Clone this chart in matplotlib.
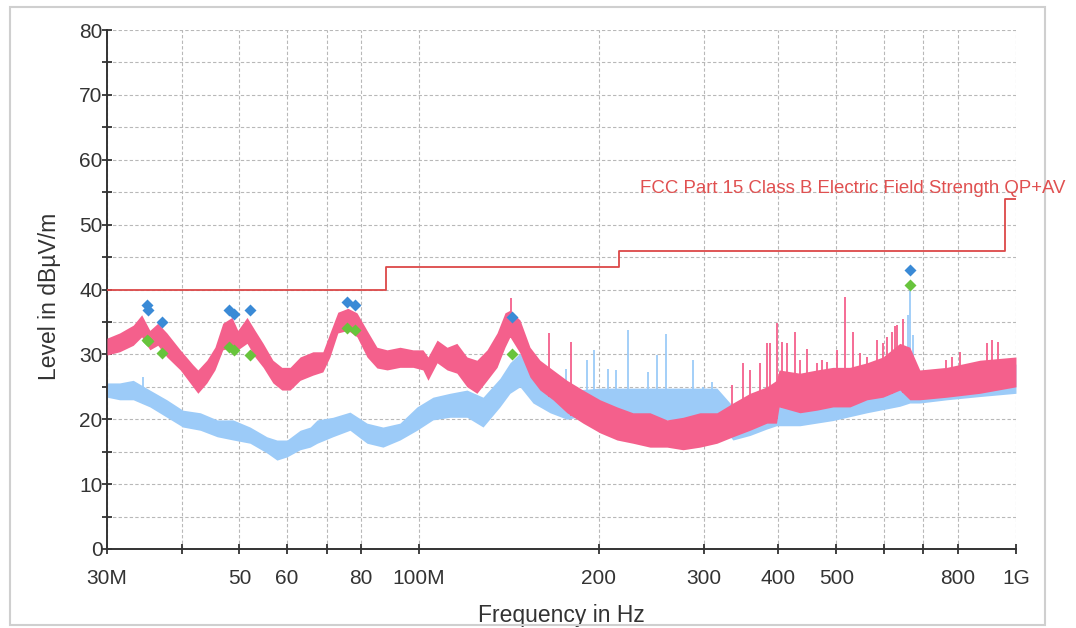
import numpy as np
import matplotlib

matplotlib.use("Agg")
import matplotlib.pyplot as plt
from matplotlib.patches import Rectangle
from matplotlib.ticker import MultipleLocator, NullLocator

plt.rcParams["font.family"] = ["Liberation Sans", "DejaVu Sans"]

# horizontal polarisation trace (pink) - noise band, MHz / dBuV/m
pink_freq = [30, 31.5, 33.2, 34.3, 35.4, 36.5, 37.8, 39.8, 41.8, 42.6,
             44.1, 45.5, 46.9, 48.6, 49.7, 51.5, 53.1, 54.8, 56.9, 58.9,
             60.8, 63.2, 66.4, 69.0, 70.9, 73.1, 76.0, 78.7, 81.8, 85.0,
             88.4, 92.9, 97.7, 101.5, 103.5, 107.2, 111.4, 115.7, 120.3, 125.0,
             130.0, 135.1, 139.3, 142.0, 147.6, 153.4, 159.4, 167.6, 176.9, 188.2,
             201, 214.6, 228.2, 243.7, 260.2, 276.8, 295.5, 315.5, 335.6, 358.4,
             382.6, 397, 401, 434.6, 464, 493.7, 527, 562.8, 598.6, 639,
             664, 690, 766, 870, 1000]
pink_high = [32.5, 33.3, 34.5, 36.1, 33.7, 34.8, 33.3, 30.7, 28.4, 27.6,
             29.1, 31.1, 34.8, 35.7, 33.7, 35.7, 33.7, 31.7, 29.1, 28.0,
             28.0, 29.6, 30.4, 30.4, 33.3, 36.5, 37.1, 36.4, 33.7, 31.1,
             30.7, 31.1, 30.7, 30.7, 29.6, 32.2, 31.1, 31.7, 29.6, 29.1,
             30.7, 33.3, 36.4, 36.8, 35.3, 31.1, 29.1, 27.6, 26.0, 24.5,
             23.0, 21.9, 21.0, 21.0, 19.9, 20.3, 21.0, 21.0, 22.5, 24.0,
             25.0, 26.0, 27.6, 27.1, 27.6, 28.0, 28.0, 28.7, 29.6, 31.7,
             31.1, 27.6, 28.0, 29.1, 29.6]
pink_low = [29.9, 30.4, 31.4, 32.7, 30.7, 31.4, 29.6, 27.6, 25.0, 24.0,
            25.6, 27.6, 30.7, 31.1, 30.7, 31.7, 29.6, 28.0, 25.6, 24.5,
            24.5, 26.0, 26.8, 27.3, 29.6, 33.3, 33.7, 32.7, 29.6, 27.9,
            27.6, 28.0, 28.0, 27.6, 26.0, 28.7, 27.6, 27.1, 25.0, 24.0,
            26.0, 28.0, 31.1, 32.7, 30.2, 26.5, 24.5, 23.0, 21.0, 19.4,
            17.9, 16.8, 16.3, 15.7, 15.7, 15.3, 15.7, 16.3, 17.3, 18.3,
            19.4, 19.4, 21.9, 21.0, 21.4, 21.9, 21.9, 23.0, 23.4, 24.5,
            23.0, 23.0, 23.4, 24.0, 25.0]
pink_spike_freq = [142.5, 165, 180, 334, 349, 358, 373, 383, 387, 398,
                   405, 413, 426, 435, 446, 464, 473, 482, 501, 517,
                   533, 548, 562, 584, 599, 607, 619, 628, 632, 647,
                   763, 780, 806, 893, 910, 934]
pink_spike_level = [38.7, 33.3, 31.9, 25.3, 28.6, 27.6, 28.6, 31.7, 31.7, 34.8,
                    31.9, 31.7, 33.5, 29.1, 30.9, 28.6, 29.1, 28.9, 30.7, 38.9,
                    33.5, 30.2, 29.6, 32.2, 31.7, 32.7, 33.5, 34.3, 34.5, 35.5,
                    29.1, 29.6, 30.4, 31.7, 32.2, 31.9]

# vertical polarisation trace (light blue)
blue_freq = [30, 31.5, 33.2, 35.4, 37.8, 40.2, 43.0, 45.9, 48.8, 52.1,
             55.6, 57.8, 60.1, 63.2, 65.7, 67.5, 71.7, 76.6, 81.8, 87.0,
             92.9, 99.2, 105.5, 112.6, 120.3, 128.0, 136.6, 142.0, 147.6, 155.2,
             165.7, 176.9, 188.2, 201, 228.2, 260.2, 295.5, 315.5, 335.6, 358.4,
             382.6, 397, 401, 434.6, 493.7, 562.8, 639, 664, 690, 766,
             870, 1000]
blue_high = [25.6, 25.6, 26.0, 24.5, 23.0, 21.4, 21.0, 19.9, 19.9, 18.8,
             17.3, 16.8, 16.8, 18.3, 18.8, 19.9, 20.3, 21.1, 19.4, 18.8,
             19.4, 21.9, 23.4, 24.0, 24.5, 23.4, 26.3, 28.7, 30.2, 26.5,
             24.5, 24.0, 24.6, 24.8, 24.8, 24.8, 24.8, 24.8, 22.0, 23.0,
             24.0, 24.5, 24.5, 24.0, 24.5, 25.5, 27.0, 29.0, 27.0, 27.5,
             28.0, 28.5]
blue_low = [23.4, 23.0, 23.0, 21.9, 20.3, 18.8, 18.3, 17.3, 16.8, 16.3,
            14.8, 13.7, 14.2, 15.3, 15.7, 16.3, 17.3, 18.3, 16.3, 15.7,
            16.8, 18.3, 19.9, 20.3, 20.3, 18.8, 21.9, 24.0, 25.0, 22.5,
            21.0, 20.0, 20.5, 20.5, 20.0, 19.9, 20.0, 19.8, 16.8, 17.5,
            18.5, 19.0, 19.0, 19.0, 19.8, 21.0, 22.0, 22.5, 22.5, 23.0,
            23.5, 24.0]
blue_spike_freq = [34.5, 143, 176, 191, 196, 207.5, 214, 224, 242, 250,
                   259, 288, 299, 310, 660, 664, 672]
blue_spike_level = [26.5, 26.5, 27.8, 29.1, 30.7, 27.8, 27.6, 33.7, 27.3, 29.9,
                    33.2, 29.1, 25.0, 25.8, 36.0, 40.4, 33.0]

# FCC Part 15 class B limit
limit_freq = [30, 88, 216, 960, 1000]
limit_level = [40, 43.5, 46, 54, 54]

# final measurement points
qp_freq = [35.0, 35.2, 37.1, 48.1, 49.0, 52.1, 75.6, 78.1, 142.9, 664]
qp_level = [37.6, 36.8, 35.0, 36.8, 36.3, 36.9, 38.1, 37.6, 35.8, 43.0]
av_freq = [35.0, 35.2, 37.1, 48.1, 49.0, 52.1, 75.6, 78.1, 142.9, 664]
av_level = [32.2, 32.0, 30.2, 31.2, 30.7, 29.9, 34.0, 33.7, 30.0, 40.7]

x_ticks = [30, 40, 50, 60, 70, 80, 100, 200, 300, 400, 500, 600, 700, 800, 1000]
x_tick_labels = ["30M", "", "50", "60", "", "80", "100M", "200", "300", "400",
                 "500", "", "", "800", "1G"]

PINK = "#f4608c"
LIGHT_BLUE = "#9ccbf8"
LIMIT_RED = "#dc4848"


def spike_base(freq, band_freq, band_low):
    return np.interp(np.log10(freq), np.log10(band_freq), band_low)


fig = plt.figure(figsize=(10.76, 6.28), dpi=100)
ax = fig.add_axes([0.0994, 0.1258, 0.8448, 0.8264])

ax.fill_between(blue_freq, blue_low, blue_high, color=LIGHT_BLUE, lw=0, zorder=2)
ax.vlines(blue_spike_freq, spike_base(blue_spike_freq, blue_freq, blue_low),
          blue_spike_level, color=LIGHT_BLUE, lw=1.3, zorder=2)
ax.fill_between(pink_freq, pink_low, pink_high, color=PINK, lw=0, zorder=3)
ax.vlines(pink_spike_freq, spike_base(pink_spike_freq, pink_freq, pink_low),
          pink_spike_level, color=PINK, lw=1.3, zorder=3)

ax.step(limit_freq, limit_level, where="post", color=LIMIT_RED, lw=1.3, zorder=4)

ax.plot(qp_freq, qp_level, "D", color="#3a8ad6", ms=6, mec="none", zorder=5)
ax.plot(av_freq, av_level, "D", color="#68c43c", ms=6, mec="none", zorder=5)

ax.set_xscale("log")
ax.set_xlim(30, 1000)
ax.set_ylim(0, 80)
ax.xaxis.set_minor_locator(NullLocator())
ax.set_xticks(x_ticks, x_tick_labels)
ax.yaxis.set_major_locator(MultipleLocator(10))
ax.yaxis.set_minor_locator(MultipleLocator(5))

ax.grid(True, which="both", linestyle=(0, (3, 2)), color="#b8b8b8", lw=0.8)
ax.set_axisbelow(True)
for side in ("top", "right"):
    ax.spines[side].set_visible(False)
for side in ("left", "bottom"):
    ax.spines[side].set_color("#333333")
    ax.spines[side].set_linewidth(1.4)

ax.tick_params(axis="both", which="both", direction="inout", length=6.5,
               width=1.3, color="#333333", labelsize=15, labelcolor="#333333")
ax.tick_params(axis="y", which="both", pad=0)
ax.tick_params(axis="x", which="both", pad=11)

ax.set_ylabel("Level in dBµV/m", fontsize=16.5, color="#333333", va="center")
ax.yaxis.set_label_coords((50 - 107) / 909, (549 - 296) / 519)
ax.set_xlabel("Frequency in Hz", fontsize=16.5, color="#333333", va="baseline")
ax.xaxis.set_label_coords(0.5, (549 - 622) / 519)

fig.text(1065 / 1076, 1 - 193 / 628,
         "FCC Part 15 Class B Electric Field Strength QP+AV",
         ha="right", va="baseline", fontsize=13.4, color="#e05050")

fig.patches.append(Rectangle((10 / 1076, 1 - 625 / 628), 1035 / 1076, 618 / 628,
                             transform=fig.transFigure, fill=False,
                             edgecolor="#cfcfcf", lw=1.5))

fig.savefig("out.png", dpi=100)
